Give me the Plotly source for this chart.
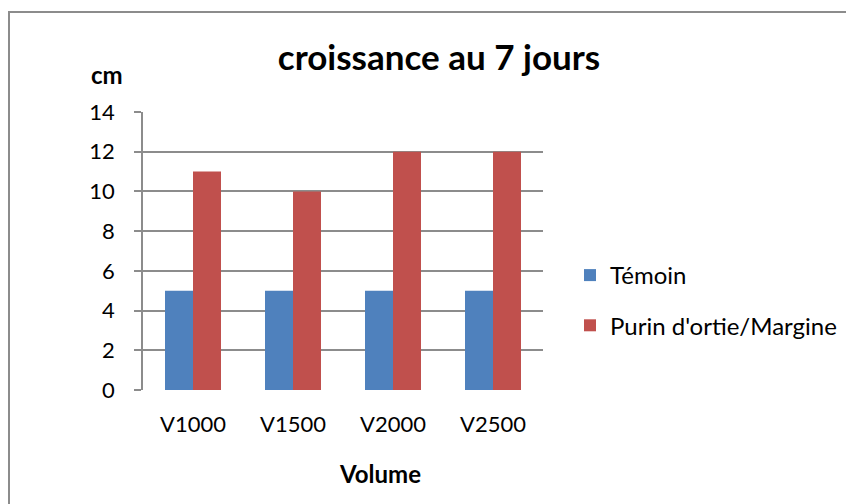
import plotly.graph_objects as go

categories = ["V1000", "V1500", "V2000", "V2500"]
temoin = [5, 5, 5, 5]
purin = [11, 10, 12, 12]
series_names = ["Témoin", "Purin d'ortie/Margine"]
y_ticks = [0, 2, 4, 6, 8, 10, 12, 14]

# the page body adds an 8px margin, so the figure is offset by OFF
OFF = 8
W, H = 854 - OFF, 504 - OFF
L, T = 143 - OFF, 112 - OFF
pw, ph = 400, 278
R, B = W - L - pw, H - T - ph

def px(x):  # screen x -> paper x
    return (x - OFF - L) / pw

def py(y):  # screen y -> paper y
    return (T + ph - (y - OFF)) / ph

FONT = "Lato, 'Open Sans', sans-serif"
GRID = "#8c8c8c"

fig = go.Figure()
fig.add_trace(go.Bar(x=categories, y=temoin, name=series_names[0],
                     marker=dict(color="#4F81BD", line=dict(width=0)),
                     legendgroup="a"))
fig.add_trace(go.Bar(x=categories, y=purin, name=series_names[1],
                     marker=dict(color="#C0504D", line=dict(width=0)),
                     legendgroup="b"))

border_path = "M {x0},{y0} L {x0},{y1} L {x1},{y1}".format(
    x0=px(9), y0=py(520), y1=py(12), x1=px(870))

fig.update_layout(
    width=W, height=H,
    margin=dict(l=L, r=R, t=T, b=B),
    paper_bgcolor="white", plot_bgcolor="white",
    barmode="group", bargap=0.44, bargroupgap=0,
    font=dict(family=FONT, size=22, color="#000000"),
    title=dict(text="<b>croissance au 7 jours</b>", x=(439 - OFF) / W, xanchor="center",
               xref="container", y=1 - (57.5 - OFF) / H, yanchor="middle", yref="container",
               font=dict(family=FONT, size=35, color="#000000")),
    legend=dict(x=px(570), xanchor="left", y=py(253), yanchor="top",
                font=dict(family=FONT, size=24, color="#000000"),
                tracegroupgap=16, bgcolor="rgba(0,0,0,0)"),
    xaxis=dict(showline=False, ticks="", showgrid=False,
               tickfont=dict(family=FONT, size=22), ticklabelstandoff=19),
    yaxis=dict(range=[0, 14], tickvals=y_ticks, showgrid=True, gridcolor=GRID,
               gridwidth=1.5, showline=True, linecolor=GRID, linewidth=1.5,
               ticks="outside", ticklen=7, tickcolor=GRID, tickwidth=1.5,
               tickfont=dict(family=FONT, size=22), ticklabelstandoff=15,
               zeroline=False),
    shapes=[dict(type="path", xref="paper", yref="paper", path=border_path,
                 line=dict(color="#8c8c8c", width=2), fillcolor="rgba(0,0,0,0)",
                 layer="below")],
    annotations=[
        dict(text="<b>cm</b>", xref="paper", yref="paper", x=px(107), y=py(74.5),
             xanchor="center", yanchor="middle", showarrow=False,
             font=dict(family=FONT, size=24, color="#000000")),
        dict(text="<b>Volume</b>", xref="paper", yref="paper", x=px(380), y=py(473),
             xanchor="center", yanchor="middle", showarrow=False,
             font=dict(family=FONT, size=24, color="#000000")),
    ],
)

fig.write_html("out.html")
